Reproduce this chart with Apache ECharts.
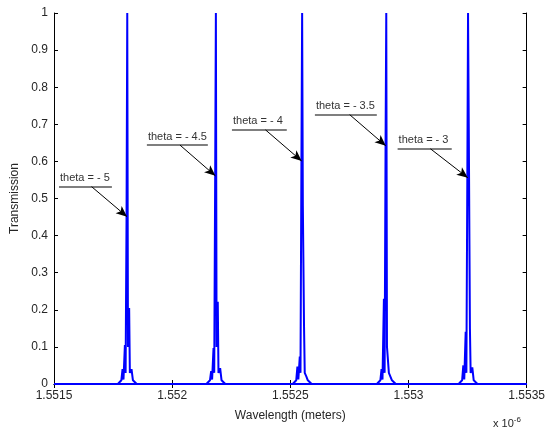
<!DOCTYPE html>
<html>
<head>
<meta charset="utf-8">
<script src="https://cdn.jsdelivr.net/npm/echarts@6/dist/echarts.min.js"></script>
<style>
  html, body { margin: 0; padding: 0; background: #fff; }
  #chart { width: 548px; height: 430px; }
</style>
</head>
<body>
<div id="chart"></div>
<script>
// Wavelength in units of 1e-6 m, transmission 0..1
var thetas = ['-5', '-4.5', '-4', '-3.5', '-3'];

var wl5 = [1.5515, 1.55177, 1.551785, 1.55179, 1.551794, 1.5518, 1.551803, 1.551807, 1.55181, 1.551813, 1.551818, 1.551821, 1.551828, 1.551834, 1.55185, 1.5535];
var tr5 = [0, 0, 0.01, 0.04, 0.012, 0.105, 0.03, 0.451, 1, 0.1, 0.205, 0.03, 0.04, 0.01, 0, 0];

var wl45 = [1.5515, 1.552145, 1.55216, 1.552165, 1.552169, 1.552175, 1.552178, 1.552182, 1.552185, 1.552188, 1.552193, 1.552196, 1.552203, 1.552209, 1.552225, 1.5535];
var tr45 = [0, 0, 0.01, 0.035, 0.012, 0.097, 0.03, 0.561, 1, 0.1, 0.222, 0.03, 0.043, 0.01, 0, 0];

var wl4 = [1.5515, 1.55251, 1.552525, 1.55253, 1.552534, 1.55254, 1.552543, 1.552547, 1.55255, 1.552553, 1.552558, 1.552561, 1.552568, 1.552574, 1.55259, 1.5535];
var tr4 = [0, 0, 0.01, 0.047, 0.012, 0.074, 0.03, 0.601, 1, 0.48, 0.156, 0.03, 0.02, 0.01, 0, 0];

var wl35 = [1.5515, 1.552866, 1.552881, 1.552886, 1.55289, 1.552896, 1.552899, 1.552903, 1.552906, 1.552909, 1.552914, 1.552917, 1.552924, 1.55293, 1.552946, 1.5535];
var tr35 = [0, 0, 0.01, 0.04, 0.012, 0.23, 0.03, 0.642, 1, 0.1, 0.1, 0.03, 0.03, 0.01, 0, 0];

var wl3 = [1.5515, 1.553212, 1.553227, 1.553232, 1.553236, 1.553242, 1.553245, 1.553249, 1.553252, 1.553255, 1.55326, 1.553263, 1.55327, 1.553276, 1.553292, 1.5535];
var tr3 = [0, 0, 0.01, 0.05, 0.012, 0.141, 0.03, 0.556, 1, 0.703, 0.148, 0.03, 0.045, 0.01, 0, 0];

// annotations: label underline and arrow to the peak
var annoText = ['theta = - 5', 'theta = - 4.5', 'theta = - 4', 'theta = - 3.5', 'theta = - 3'];
var annoLineY = [0.532, 0.644, 0.685, 0.726, 0.634];
var annoLineX1 = [1.551521, 1.551893, 1.552253, 1.552604, 1.552954];
var annoLineX2 = [1.551745, 1.552151, 1.552485, 1.552866, 1.553183];
var annoArrowX = [1.551659, 1.552033, 1.552395, 1.552751, 1.553093];
var annoTipX = [1.551809, 1.552183, 1.552548, 1.552904, 1.553251];
var annoTipY = [0.451, 0.561, 0.601, 0.642, 0.556];

var wls = [wl5, wl45, wl4, wl35, wl3];
var trs = [tr5, tr45, tr4, tr35, tr3];

var font = '"Liberation Sans", Arial, sans-serif';

var series = thetas.map(function (t, i) {
    return {
        name: 'theta = ' + t,
        type: 'line',
        showSymbol: false,
        symbol: 'none',
        lineStyle: { color: '#0000ff', width: 2 },
        data: wls[i].map(function (x, k) { return [x, trs[i][k]]; }),
        markLine: {
            silent: true,
            animation: false,
            data: [
                [
                    { coord: [annoLineX1[i], annoLineY[i]], symbol: 'none',
                      lineStyle: { color: '#555', width: 1.5, type: 'solid' },
                      label: { show: true, formatter: annoText[i], position: 'insideStartTop',
                               distance: [1, 3], color: '#333', fontSize: 11, fontFamily: font } },
                    { coord: [annoLineX2[i], annoLineY[i]], symbol: 'none' }
                ],
                [
                    { coord: [annoArrowX[i], annoLineY[i]], symbol: 'none',
                      lineStyle: { color: '#000', width: 1, type: 'solid' },
                      label: { show: false } },
                    { coord: [annoTipX[i], annoTipY[i]], symbol: 'arrow', symbolSize: [7, 11] }
                ]
            ]
        }
    };
});

var option = {
    animation: false,
    backgroundColor: '#fff',
    grid: { left: 54, right: 21, top: 13, bottom: 46 },
    xAxis: [
        {
            type: 'value', min: 1.5515, max: 1.5535, interval: 0.0005,
            name: 'Wavelength (meters)', nameLocation: 'middle', nameGap: 26,
            nameTextStyle: { color: '#262626', fontSize: 12, fontFamily: font },
            axisLine: { lineStyle: { color: '#000', width: 1 } },
            axisTick: { inside: true, length: 4, lineStyle: { color: '#000' } },
            axisLabel: { color: '#262626', fontSize: 12, fontFamily: font, margin: 6,
                         formatter: function (v) { return String(+v.toFixed(4)); } },
            splitLine: { show: false }
        },
        {
            type: 'value', position: 'top', min: 1.5515, max: 1.5535, interval: 0.0005,
            axisLine: { lineStyle: { color: '#000', width: 1 } },
            axisTick: { inside: true, length: 4, lineStyle: { color: '#000' } },
            axisLabel: { show: false },
            splitLine: { show: false }
        }
    ],
    yAxis: [
        {
            type: 'value', min: 0, max: 1, interval: 0.1,
            name: 'Transmission', nameLocation: 'middle', nameGap: 30, nameRotate: 90,
            nameTextStyle: { color: '#262626', fontSize: 12, fontFamily: font },
            axisLine: { show: true, lineStyle: { color: '#000', width: 1 } },
            axisTick: { show: true, inside: true, length: 4, lineStyle: { color: '#000' } },
            axisLabel: { color: '#262626', fontSize: 12, fontFamily: font, margin: 6 },
            splitLine: { show: false }
        },
        {
            type: 'value', position: 'right', min: 0, max: 1, interval: 0.1,
            axisLine: { show: true, lineStyle: { color: '#000', width: 1 } },
            axisTick: { show: true, inside: true, length: 4, lineStyle: { color: '#000' } },
            axisLabel: { show: false },
            splitLine: { show: false }
        }
    ],
    graphic: [
        {
            type: 'text', left: 493, top: 416,
            style: {
                text: 'x 10{sup|-6}',
                rich: { sup: { fontSize: 8, verticalAlign: 'top', padding: [0, 0, 8, 0], fill: '#262626' } },
                fill: '#262626', font: '11px ' + font
            }
        }
    ],
    series: series
};

var myChart = echarts.init(document.getElementById('chart'));
myChart.setOption(option);
</script>
</body>
</html>
